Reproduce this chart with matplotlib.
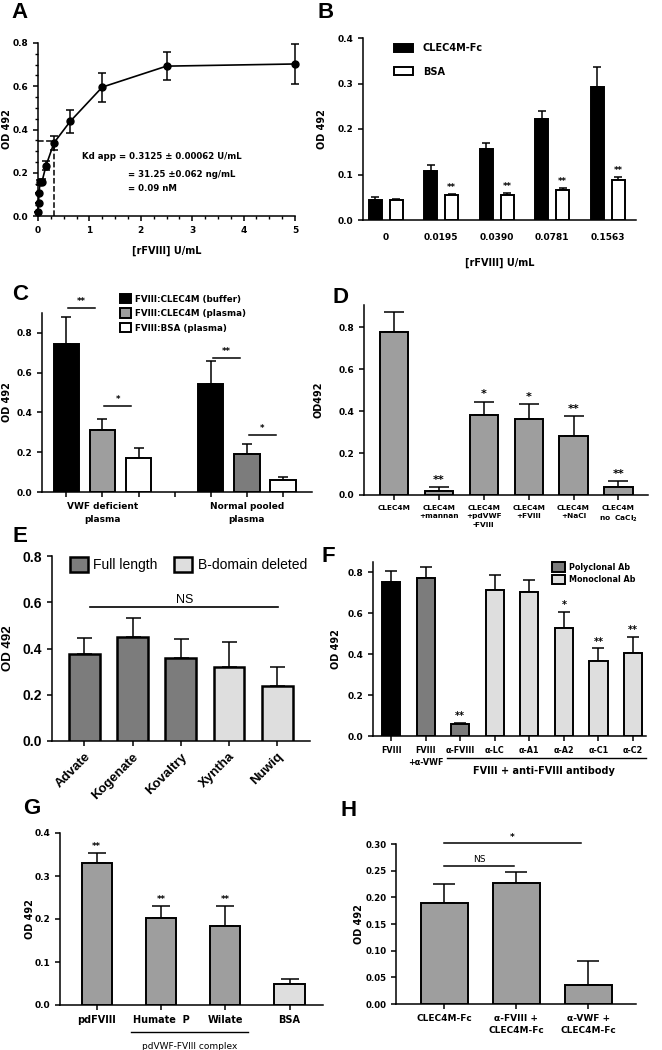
import matplotlib
matplotlib.use("Agg")
import matplotlib.pyplot as plt
from matplotlib.patches import Patch
import matplotlib.transforms as mtrans
import numpy as np

# ---- data ----
# A: binding curve
a_conc = [0, 0.0098, 0.0195, 0.039, 0.078, 0.156, 0.3125, 0.625, 1.25, 2.5, 5]
a_od = [0.017, 0.059, 0.105, 0.155, 0.159, 0.233, 0.339, 0.437, 0.596, 0.693, 0.703]
a_err = [0, 0, 0, 0.012, 0.012, 0.02, 0.032, 0.054, 0.067, 0.066, 0.094]
a_kd = 0.3125
a_kd_od = 0.345

# B
b_conc = ['0', '0.0195', '0.0390', '0.0781', '0.1563']
b_clec = [0.045, 0.108, 0.155, 0.222, 0.292]
b_clec_err = [0.006, 0.012, 0.015, 0.017, 0.044]
b_bsa = [0.043, 0.054, 0.056, 0.066, 0.087]
b_bsa_err = [0.004, 0.004, 0.004, 0.004, 0.008]
b_sig = ['', '**', '**', '**', '**']

# C
c_groups = ['VWF deficient\nplasma', 'Normal pooled\nplasma']
c_series = ['FVIII:CLEC4M (buffer)', 'FVIII:CLEC4M (plasma)', 'FVIII:BSA (plasma)']
c_buffer = [0.745, 0.545]
c_buffer_err = [0.135, 0.115]
c_plasma = [0.312, 0.19]
c_plasma_err = [0.055, 0.05]
c_bsa = [0.171, 0.06]
c_bsa_err = [0.05, 0.015]
c_sig = [(0, 1, 0.925, '**'), (1, 2, 0.43, '*'), (4, 5, 0.675, '**'), (5, 6, 0.285, '*')]

# D
d_labels = ['CLEC4M', 'CLEC4M\n+mannan', 'CLEC4M\n+pdVWF\n-FVIII', 'CLEC4M\n+FVIII',
            'CLEC4M\n+NaCl', 'CLEC4M\nno  CaCl$_\\mathbf{2}$']
d_vals = [0.775, 0.021, 0.382, 0.364, 0.283, 0.037]
d_err = [0.097, 0.019, 0.063, 0.069, 0.091, 0.03]
d_sig = ['', '**', '*', '*', '**', '**']

# E
e_products = ['Advate', 'Kogenate', 'Kovaltry', 'Xyntha', 'Nuwiq']
e_vals = [0.376, 0.45, 0.357, 0.318, 0.239]
e_err = [0.07, 0.084, 0.082, 0.109, 0.082]
e_type = ['Full length', 'Full length', 'Full length', 'B-domain deleted', 'B-domain deleted']

# F
f_labels = ['FVIII', 'FVIII\n+α-VWF', 'α-FVIII', 'α-LC', 'α-A1', 'α-A2', 'α-C1', 'α-C2']
f_vals = [0.752, 0.771, 0.057, 0.711, 0.703, 0.529, 0.367, 0.407]
f_err = [0.053, 0.054, 0.008, 0.073, 0.058, 0.077, 0.06, 0.077]
f_type = ['none', 'Polyclonal Ab', 'Polyclonal Ab', 'Monoclonal Ab', 'Monoclonal Ab',
          'Monoclonal Ab', 'Monoclonal Ab', 'Monoclonal Ab']
f_sig = ['', '', '**', '', '', '*', '**', '**']

# G
g_labels = ['pdFVIII', 'Humate  P', 'Wilate', 'BSA']
g_vals = [0.33, 0.202, 0.183, 0.05]
g_err = [0.023, 0.029, 0.048, 0.011]
g_sig = ['**', '**', '**', '']

# H
h_labels = ['CLEC4M-Fc', 'α-FVIII +\nCLEC4M-Fc', 'α-VWF +\nCLEC4M-Fc']
h_vals = [0.189, 0.226, 0.036]
h_err = [0.036, 0.021, 0.045]
h_sig = [(0, 0.97, 0.259, 'NS'), (0, 1.89, 0.301, '*')]

# ---- figure ----
W, H = 662, 1050
plt.rcParams['font.family'] = ['DejaVu Sans']
plt.rcParams['font.weight'] = 'bold'
plt.rcParams['axes.labelweight'] = 'bold'
fig = plt.figure(figsize=(W / 100, H / 100), dpi=100)

GRAY = '#9e9e9e'
DARK = '#7c7c7c'
LIGHT = '#dedede'
ARIAL = ['Liberation Sans', 'DejaVu Sans']


def add_ax(l, t, r, b):
    return fig.add_axes([l / W, 1 - b / H, (r - l) / W, (b - t) / H])


def style(ax, size=6.5):
    for s in ['top', 'right']:
        ax.spines[s].set_visible(False)
    for s in ['left', 'bottom']:
        ax.spines[s].set_linewidth(1.1)
    ax.tick_params(labelsize=size, width=1.1, length=3.5)


def bars(ax, x, vals, err, width, colors, capsize, lw=1.4):
    ax.bar(x, vals, width, color=colors, edgecolor='black', linewidth=lw, zorder=3)
    ax.errorbar(x, vals, yerr=[np.zeros(len(vals)), err], fmt='none', ecolor='black',
                elinewidth=1.1, capsize=capsize, capthick=1.1, zorder=2)


def ylab(ax, text, xpix, size=7, **kw):
    # xpix: centre of the label, in figure pixels
    ax.set_ylabel(text, fontsize=size, va='center', ha='center', **kw)
    bb = ax.get_position()
    ax.yaxis.set_label_coords((xpix / W - bb.x0) / bb.width, 0.5)


def letter(s, x, y):
    fig.text(x / W, 1 - y / H, s, fontsize=16, fontweight='bold', family=ARIAL,
             ha='center', va='center')


# A
ax = add_ax(38, 43, 295, 216)
style(ax, 6.5)
ax.errorbar(a_conc, a_od, yerr=a_err, color='black', marker='o', ms=5, lw=1.2,
            capsize=3, elinewidth=1.1, capthick=1.1, clip_on=False, zorder=3)
ax.plot([a_kd, a_kd], [0, a_kd_od], 'k--', lw=1.1)
ax.plot([0, a_kd], [a_kd_od, a_kd_od], 'k--', lw=1.1)
ax.set_xlim(0, 5)
ax.set_ylim(0, 0.8)
ax.set_yticks([0, 0.2, 0.4, 0.6, 0.8])
ax.set_yticklabels(['0.0', '0.2', '0.4', '0.6', '0.8'])
ax.set_xticks(range(6))
ax.set_xticks(np.arange(0, 5.01, 0.25), minor=True)
ax.set_yticks(np.arange(0, 0.81, 0.05), minor=True)
ax.tick_params(which='minor', length=2, width=1.0)
ax.set_xlabel('[rFVIII] U/mL', fontsize=7, labelpad=8)
ylab(ax, 'OD 492', 7)
ax.text(0.856, 0.273, 'Kd app = 0.3125 ± 0.00062 U/mL', fontsize=6.2, va='center')
ax.text(1.75, 0.194, '= 31.25 ±0.062 ng/mL', fontsize=6.2, va='center')
ax.text(1.75, 0.125, '= 0.09 nM', fontsize=6.2, va='center')

# B
ax = add_ax(363, 38, 636, 220)
style(ax, 6.5)
xb = np.arange(len(b_conc))
bars(ax, xb - 0.19, b_clec, b_clec_err, 0.24, 'black', 3)
bars(ax, xb + 0.19, b_bsa, b_bsa_err, 0.24, 'white', 3)
for i, s in enumerate(b_sig):
    if s:
        ax.text(xb[i] + 0.19, b_bsa[i] + b_bsa_err[i] + 0.004, s, ha='center', va='bottom', fontsize=6)
ax.set_xlim(-0.41, 4.51)
ax.set_ylim(0, 0.4)
ax.set_yticks([0, 0.1, 0.2, 0.3, 0.4])
ax.set_yticklabels(['0.0', '0.1', '0.2', '0.3', '0.4'])
ax.set_xticks(xb)
ax.set_xticklabels(b_conc)
ax.tick_params(axis='x', length=0, pad=9)
ax.set_xlabel('[rFVIII] U/mL', fontsize=7, labelpad=12)
ylab(ax, 'OD 492', 322)
ax.legend(handles=[Patch(facecolor='black', edgecolor='black', lw=1.4, label='CLEC4M-Fc'),
                   Patch(facecolor='white', edgecolor='black', lw=1.4, label='BSA')],
          loc='upper left', bbox_to_anchor=(0.08, 1.02), frameon=False, fontsize=7,
          handlelength=2.0, handleheight=0.9, labelspacing=1.4, handletextpad=1.0)

# C
ax = add_ax(42, 313, 312, 492)
style(ax, 6.5)
xc = [0, 1, 2, 4, 5, 6]
c_vals = [c_buffer[0], c_plasma[0], c_bsa[0], c_buffer[1], c_plasma[1], c_bsa[1]]
c_errs = [c_buffer_err[0], c_plasma_err[0], c_bsa_err[0], c_buffer_err[1], c_plasma_err[1], c_bsa_err[1]]
c_cols = ['black', GRAY, 'white', 'black', DARK, 'white']
bars(ax, xc, c_vals, c_errs, 0.7, c_cols, 3.6)
for i, j, y, s in c_sig:
    ax.plot([i + 0.05, j - 0.2], [y, y], color='black', lw=1.1, clip_on=False)
    ax.text((i + j) / 2 - 0.07, y + 0.01, s, ha='center', va='bottom', fontsize=6)
ax.set_xlim(-0.67, 6.8)
ax.set_ylim(0, 0.9)
ax.set_yticks([0, 0.2, 0.4, 0.6, 0.8])
ax.set_yticklabels(['0.0', '0.2', '0.4', '0.6', '0.8'])
ax.set_xticks(range(7))
ax.set_xticklabels(['', c_groups[0], '', '', '', c_groups[1], ''], fontsize=6.5, linespacing=1.6)
ylab(ax, 'OD 492', 7)
fig.legend(handles=[Patch(facecolor=c, edgecolor='black', lw=1.4, label=l)
                    for c, l in zip(['black', GRAY, 'white'], c_series)],
           loc='upper left', bbox_to_anchor=(112 / W, 1 - 286 / H), frameon=False, fontsize=6.3,
           handlelength=1.3, handleheight=1.3, labelspacing=0.55, handletextpad=0.4)

# D
ax = add_ax(364, 305, 648, 495)
style(ax, 6.5)
xd = np.arange(len(d_vals))
bars(ax, xd, d_vals, d_err, 0.63, GRAY, 7)
for i, s in enumerate(d_sig):
    if s:
        ax.text(xd[i], d_vals[i] + d_err[i] + 0.01, s, ha='center', va='bottom', fontsize=8)
ax.set_xlim(-0.67, 5.66)
ax.set_ylim(0, 0.905)
ax.set_yticks([0, 0.2, 0.4, 0.6, 0.8])
ax.set_yticklabels(['0.0', '0.2', '0.4', '0.6', '0.8'])
ax.set_xticks(xd)
ax.set_xticklabels(d_labels, fontsize=5.3, linespacing=1.5, va='top')
ylab(ax, 'OD492', 319)

# E
ax = add_ax(52, 556, 310, 741)
style(ax, 9)
xe = np.arange(len(e_vals))
e_cols = [DARK if t == 'Full length' else LIGHT for t in e_type]
bars(ax, xe, e_vals, e_err, 0.64, e_cols, 5.4, lw=1.8)
ax.plot([0.12, 4.02], [0.58, 0.58], color='black', lw=1.2)
ax.text(2.09, 0.585, 'NS', ha='center', va='bottom', fontsize=9, fontweight='normal', family=ARIAL)
ax.set_xlim(-0.67, 4.68)
ax.set_ylim(0, 0.8)
ax.set_yticks([0, 0.2, 0.4, 0.6, 0.8])
ax.set_yticklabels(['0.0', '0.2', '0.4', '0.6', '0.8'], family=ARIAL, fontsize=10)
ax.set_xticks(xe)
ax.set_xticklabels(e_products, rotation=45, ha='right', rotation_mode='anchor',
                   family=ARIAL, fontsize=9.5)
ylab(ax, 'OD 492', 8, size=9.5, family=ARIAL)
ax.legend(handles=[Patch(facecolor=DARK, edgecolor='black', lw=1.8, label='Full length'),
                   Patch(facecolor=LIGHT, edgecolor='black', lw=1.8, label='B-domain deleted')],
          loc='upper left', bbox_to_anchor=(0.02, 1.06), ncol=2, frameon=False,
          prop={'family': ARIAL, 'size': 10, 'weight': 'normal'},
          handlelength=1.3, handleheight=1.2, handletextpad=0.4, columnspacing=1.2)

# F
ax = add_ax(373, 562, 646, 736)
style(ax, 6.5)
xf = np.arange(len(f_vals))
f_cols = ['black' if t == 'none' else (DARK if t == 'Polyclonal Ab' else LIGHT) for t in f_type]
bars(ax, xf, f_vals, f_err, 0.53, f_cols, 4)
for i, s in enumerate(f_sig):
    if s:
        ax.text(xf[i], f_vals[i] + f_err[i] + 0.008, s, ha='center', va='bottom', fontsize=7)
ax.set_xlim(-0.53, 7.38)
ax.set_ylim(0, 0.849)
ax.set_yticks([0, 0.2, 0.4, 0.6, 0.8])
ax.set_yticklabels(['0.0', '0.2', '0.4', '0.6', '0.8'])
ax.set_xticks(xf)
ax.set_xticklabels(f_labels, fontsize=5.8, linespacing=1.4)
ylab(ax, 'OD 492', 336)
tr = mtrans.blended_transform_factory(ax.transData, ax.transAxes)
ax.plot([1.6, 7.38], [-0.126, -0.126], color='black', lw=1.0, transform=tr, clip_on=False)
ax.text(4.42, -0.2, 'FVIII + anti-FVIII antibody', transform=tr, ha='center', va='center', fontsize=7)
ax.legend(handles=[Patch(facecolor=DARK, edgecolor='black', lw=1.4, label='Polyclonal Ab'),
                   Patch(facecolor=LIGHT, edgecolor='black', lw=1.4, label='Monoclonal Ab')],
          loc='upper left', bbox_to_anchor=(0.63, 1.04), frameon=False, fontsize=5.8,
          handlelength=1.6, handleheight=1.5, labelspacing=0.3, handletextpad=0.5)

# G
ax = add_ax(60, 833, 323, 1005)
style(ax, 6.5)
xg = np.arange(len(g_vals))
g_cols = [GRAY, GRAY, GRAY, LIGHT]
bars(ax, xg, g_vals, g_err, 0.47, g_cols, 6.6)
for i, s in enumerate(g_sig):
    if s:
        ax.text(xg[i], g_vals[i] + g_err[i] + 0.004, s, ha='center', va='bottom', fontsize=6)
ax.set_xlim(-0.57, 3.52)
ax.set_ylim(0, 0.4)
ax.set_yticks([0, 0.1, 0.2, 0.3, 0.4])
ax.set_yticklabels(['0.0', '0.1', '0.2', '0.3', '0.4'])
ax.set_xticks(xg)
ax.set_xticklabels(g_labels, fontsize=7)
ylab(ax, 'OD 492', 30)
tr = mtrans.blended_transform_factory(ax.transData, ax.transAxes)
ax.plot([0.54, 2.36], [-0.157, -0.157], color='black', lw=1.0, transform=tr, clip_on=False)
ax.text(1.45, -0.24, 'pdVWF-FVIII complex', transform=tr, ha='center', va='center',
        fontsize=6.5, fontweight='normal')

# H
ax = add_ax(396, 844, 636, 1004)
style(ax, 6.2)
xh = np.arange(len(h_vals))
bars(ax, xh, h_vals, h_err, 0.65, GRAY, 8)
for i, j, y, s in h_sig:
    ax.plot([i, j], [y, y], color='black', lw=1.1, clip_on=False)
    ax.text((i + j) / 2, y + 0.003, s, ha='center', va='bottom', fontsize=6.5,
            fontweight='normal' if s == 'NS' else 'bold')
ax.set_xlim(-0.67, 2.66)
ax.set_ylim(0, 0.30)
ax.set_yticks(np.arange(0, 0.301, 0.05))
ax.set_yticklabels(['%.2f' % v for v in np.arange(0, 0.301, 0.05)])
ax.set_xticks(xh)
ax.set_xticklabels(h_labels, fontsize=6.5, linespacing=1.5)
ylab(ax, 'OD 492', 359)

for s, x, y in [('A', 19, 12), ('B', 326, 12), ('C', 20, 294), ('D', 340, 298),
                ('E', 20, 536), ('F', 328, 557), ('G', 32, 808), ('H', 349, 811)]:
    letter(s, x, y)

fig.savefig('out.png', dpi=100)
